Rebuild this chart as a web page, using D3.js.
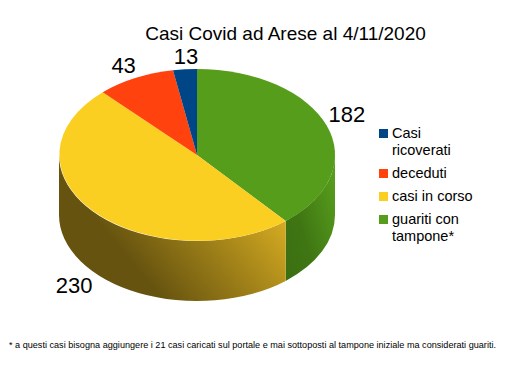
<!DOCTYPE html>
<html lang="en">
<head>
<meta charset="UTF-8">
<title>Casi Covid ad Arese</title>
<style>
    html, body { margin: 0; padding: 0; background: #fff; }
    svg { display: block; }
    text { font-family: "Liberation Sans", Arial, sans-serif; fill: #000; }
</style>
<script src="https://d3js.org/d3.v7.min.js"></script>
</head>
<body>
<script>
// values
const categories = ["guariti con tampone*", "casi in corso", "deceduti", "Casi ricoverati"];
const values = [182, 230, 43, 13];
const sliceColors = ["#579d1c", "#fbce22", "#ff420e", "#004586"];
const legendOrder = [3, 2, 1, 0];
const legendLines = [["Casi", "ricoverati"], ["deceduti"], ["casi in corso"], ["guariti con", "tampone*"]];
const titleText = "Casi Covid ad Arese al 4/11/2020";
const footnote = "* a questi casi bisogna aggiungere i 21 casi caricati sul portale e mai sottoposti al tampone iniziale ma considerati guariti.";

const width = 509, height = 366;
const cx = 197, cy = 155, rx = 138, ry = 86, depth = 60 / ry;

const svg = d3.select("body").append("svg")
    .attr("width", width)
    .attr("height", height);

const slices = d3.pie().sort(null).value(d => d)(values);
const defs = svg.append("defs");

// wall shading, dark to light, in fractions of each wall's box
function wallGradient(id, x1, y1, x2, y2, stops) {
    const g = defs.append("linearGradient").attr("id", id)
        .attr("x1", x1).attr("y1", y1).attr("x2", x2).attr("y2", y2);
    stops.forEach(s => g.append("stop").attr("offset", s[0]).attr("stop-color", s[1]));
}
wallGradient("wall0", 0, 1, 1, 0.2, [[0, "#3c6e12"], [0.4, "#3f7613"], [1, "#579d1c"]]);
wallGradient("wall1", 0.3, 0.7, 0.95, 0.35, [[0, "#66530f"], [1, "#d6ac22"]]);

const pie = svg.append("g").attr("transform", `translate(${cx},${cy}) scale(${rx},${ry})`);

// side wall of a slice, only the front half of the ellipse shows
function wallPath(s) {
    const a0 = Math.max(s.startAngle, Math.PI / 2) - Math.PI / 2;
    const a1 = Math.min(s.endAngle, 3 * Math.PI / 2) - Math.PI / 2;
    if (a1 <= a0) return null;
    const p = d3.path();
    p.arc(0, 0, 1, a0, a1);
    p.arc(0, depth, 1, a1, a0, true);
    p.closePath();
    return p.toString();
}

pie.selectAll("path.wall")
    .data(slices.filter(s => wallPath(s)))
    .enter().append("path")
    .attr("class", "wall")
    .attr("d", wallPath)
    .attr("fill", s => `url(#wall${s.index})`);

const arc = d3.arc().innerRadius(0).outerRadius(1);
pie.selectAll("path.top")
    .data(slices)
    .enter().append("path")
    .attr("class", "top")
    .attr("d", arc)
    .attr("fill", (s, i) => sliceColors[i]);

// value labels just outside the rim, dropped by the wall on the front side
const labelRadius = [1.156, 1.19, 1.19, 1.156];
const labelShiftX = [0, 0, 0, 3];
const labelShiftY = [-7, 2.5, 1.5, 0];
svg.selectAll("text.value")
    .data(slices)
    .enter().append("text")
    .attr("class", "value")
    .attr("text-anchor", "middle")
    .attr("font-size", 22)
    .attr("dy", "0.35em")
    .attr("x", (s, i) => cx + Math.sin((s.startAngle + s.endAngle) / 2) * rx * labelRadius[i] + labelShiftX[i])
    .attr("y", (s, i) => {
        const mid = (s.startAngle + s.endAngle) / 2;
        const drop = Math.cos(mid) < 0 ? depth * ry : 0;
        return cy - Math.cos(mid) * ry * labelRadius[i] + drop + labelShiftY[i];
    })
    .text(s => s.data);

svg.append("text")
    .attr("x", 285.5).attr("y", 40)
    .attr("text-anchor", "middle")
    .attr("font-size", 19)
    .text(titleText);

// legend
const rowBaselines = [138, 178, 201, 224];
const legend = svg.append("g").selectAll("g")
    .data(legendOrder)
    .enter().append("g")
    .attr("transform", (d, i) => `translate(379,${rowBaselines[i]})`);

legend.append("rect")
    .attr("y", -9).attr("width", 9).attr("height", 9)
    .attr("fill", d => sliceColors[d]);

legend.append("text")
    .attr("x", 13)
    .attr("font-size", 14.5)
    .selectAll("tspan")
    .data((d, i) => legendLines[i])
    .enter().append("tspan")
    .attr("x", 13)
    .attr("dy", (d, i) => i ? 17 : 0)
    .text(d => d);

svg.append("text")
    .attr("x", 9).attr("y", 348)
    .attr("font-size", 9)
    .attr("textLength", 487)
    .attr("lengthAdjust", "spacingAndGlyphs")
    .text(footnote);
</script>
</body>
</html>
